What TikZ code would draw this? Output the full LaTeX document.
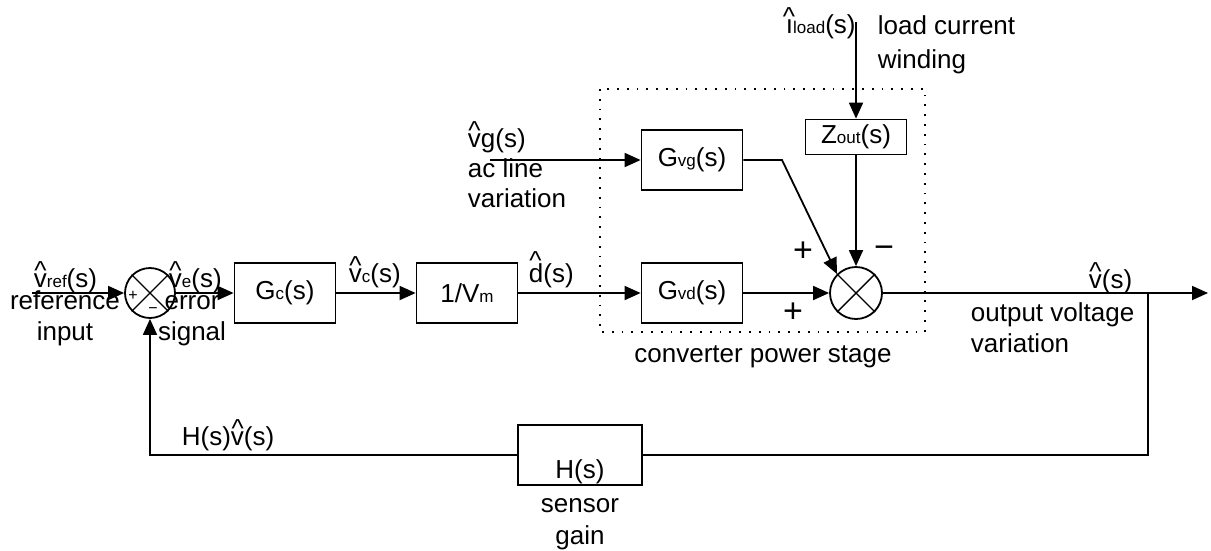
\documentclass[tikz,border=0pt]{standalone}
\usepackage{fontspec}
\setmainfont{Liberation Sans}
\usetikzlibrary{arrows.meta}
\newcommand{\subtxt}[1]{{\fontsize{17}{17}\selectfont #1}}
\newcommand{\mns}{\char"2212}
% caret set apart above a letter: shift, lift, letter
\newcommand{\hatof}[3]{\makebox[0pt][l]{\kern#1em\raisebox{#2em}{\char`\^}}#3}

\begin{document}
\begin{tikzpicture}[x=1pt,y=-1pt,line width=1.8pt,
  >={Triangle[length=16pt,width=14pt]},
  every node/.style={font=\fontsize{26}{31}\selectfont,inner sep=0pt},
  block/.style={draw,rectangle,minimum width=101pt,minimum height=60pt},
  sumpt/.style={draw,circle,minimum size=50pt},
  lbl/.style={anchor=base west},
  sign/.style={font=\fontsize{34}{34}\selectfont}]
  \useasboundingbox (0,0) rectangle (1211,550);

  % Forward path: summer, compensator, modulator, power stage.
  \node[sumpt] (s1) at (150,293) {};
  \draw[line width=1.4pt] (s1.north west) -- (s1.south east)
                          (s1.north east) -- (s1.south west);
  \node[block] (gc)  at (285,293) {G\subtxt{c}(s)};
  \node[block] (vm)  at (467,293) {1/V\subtxt{m}};
  \node[block] (gvd) at (692,293) {G\subtxt{vd}(s)};
  \node[block] (gvg) at (692,160) {G\subtxt{vg}(s)};
  \node[block,minimum height=35pt] (zout) at (856,137) {Z\subtxt{out}(s)};
  \node[sumpt,minimum size=52pt] (s2) at (856,293) {};
  \draw[line width=1.4pt] (s2.north west) -- (s2.south east)
                          (s2.north east) -- (s2.south west);

  % Sensor in the return path.
  \node[block,minimum width=124pt] (hs) at (580,455) {};
  \node[anchor=base] (hstxt) at (580,478) {H(s)};

  % The power stage is framed by a dotted box.
  \draw[dash pattern=on 1.8pt off 8pt] (600,89) rectangle (925,332);

  \coordinate (refin) at (32,293);
  \coordinate (vgin) at (490,160);
  \coordinate (gvgbend) at (782,160);
  \coordinate (iload) at (856,22);
  \coordinate (br) at (1148,293);
  \coordinate (vout) at (1208,293);

  \draw[->] (refin) -- (s1.west);
  \draw[->] (s1.east) -- (gc.west);
  \draw[->] (gc.east) -- (vm.west);
  \draw[->] (vm.east) -- (gvd.west);
  \draw[->] (gvd.east) -- (s2.west);
  \draw[->] (vgin) -- (gvg.west);
  \draw[->] (gvg.east) -- (gvgbend) -- (s2.north west);
  \draw[->] (iload) -- (zout.north);
  \draw[->] (zout.south) -- (s2.north);
  \draw[->] (s2.east) -- (vout);
  \draw (br) |- (hs.east);
  \draw[->] (hs.west) -| (s1.south);

  % Signal names and descriptions (base = last line).
  \node[lbl] (lvref) at (33,287) {\hatof{0.02}{0.27}{v}\subtxt{ref}(s)};
  \node[align=center,anchor=base] (lref) at (65,340) {reference\\input};
  \node[lbl] (lve) at (168,287) {\hatof{0.02}{0.27}{v}\subtxt{e}(s)};
  \node[align=center,anchor=base] (lerr) at (192,340) {error\\signal};
  \node[font=\fontsize{16}{16}\selectfont] (s1p) at (133,296) {+};
  \node[font=\fontsize{16}{16}\selectfont] (s1m) at (153,311) {\mns};
  \node[lbl] (lvc) at (348,282) {\hatof{0.02}{0.27}{v}\subtxt{c}(s)};
  \node[lbl] (ld) at (528,282) {\hatof{0.02}{0.5}{d}(s)};
  \node[align=left,anchor=base west] (lvg) at (467,207)
    {\hatof{0.02}{0.27}{v}g(s)\\[-1pt]ac line\\[-1pt]variation};
  \node[lbl] (lil) at (785,33) {\hatof{-0.12}{0.27}{\i}\subtxt{load}(s)};
  \node[align=left,anchor=base west] (lload) at (877,68)
    {load current\\[3pt]winding};
  \node[sign] (s2pa) at (803,252) {+};
  \node[sign] (s2m) at (884,252) {\mns};
  \node[sign] (s2pb) at (793,313) {+};
  \node[lbl] (lv) at (1088,288) {\hatof{0.02}{0.27}{v}(s)};
  \node[align=left,anchor=base west] (lout) at (970,352)
    {output voltage\\variation};
  \node[anchor=base] (lstage) at (763,362) {converter power stage};
  \node[lbl] (lhv) at (181,445) {H(s)\hatof{0.02}{0.27}{v}(s)};
  \node[align=center,anchor=base] (lsens) at (580,544) {sensor\\[1pt]gain};
\end{tikzpicture}
\end{document}
